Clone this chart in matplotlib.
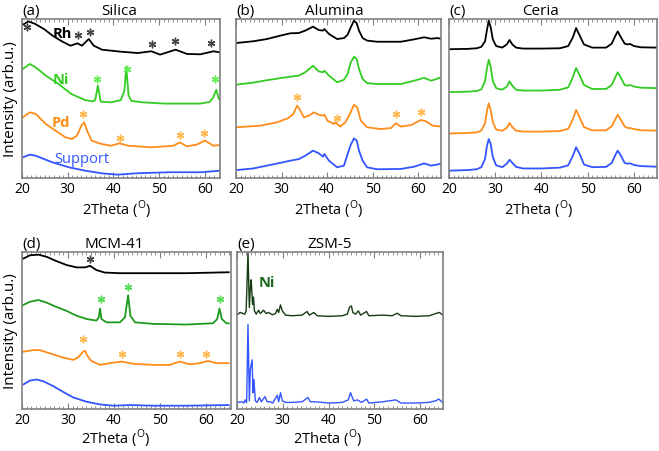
import matplotlib
matplotlib.use('Agg')
import matplotlib.pyplot as plt
from matplotlib.ticker import MultipleLocator

plt.rcParams['font.family'] = ['Open Sans', 'DejaVu Sans']

# ---------------- (a) Silica ----------------
silica_rh_x = [20.2, 21.4, 22.8, 24.8, 26.7, 28.7, 30.6, 32.1, 33.1, 34.6, 35.7, 37.5, 41.4, 45.3,
               48.3, 50.2, 53.6, 56.1, 59.0, 61.9, 63.3]
silica_rh_y = [96.4, 98.5, 97.0, 93.7, 89.5, 86.0, 83.2, 84.7, 83.2, 87.4, 83.2, 80.7, 79.5, 78.6,
               79.7, 77.6, 80.7, 78.0, 77.8, 79.7, 79.0]
silica_ni_x = [20.2, 21.7, 23.0, 25.2, 28.0, 30.8, 33.7, 35.4, 36.0, 36.6, 37.2, 39.5, 41.6, 42.4,
               42.8, 43.3, 43.9, 46.3, 51.2, 56.1, 59.0, 61.0, 61.8, 62.5, 63.0, 63.3]
silica_ni_y = [68.6, 71.7, 69.6, 64.4, 59.1, 52.8, 49.1, 48.2, 49.0, 58.1, 48.0, 47.6, 49.0, 55.0,
               69.8, 52.0, 48.5, 47.6, 46.8, 46.8, 46.8, 47.8, 50.5, 55.5, 50.0, 49.0]
silica_pd_x = [20.2, 21.7, 23.0, 25.2, 27.3, 29.5, 30.9, 32.0, 33.0, 33.6, 34.2, 35.2, 37.4, 39.5,
               41.3, 43.2, 48.2, 53.1, 54.5, 56.1, 58.2, 60.0, 61.9, 63.3]
silica_pd_y = [38.2, 41.3, 40.3, 34.0, 29.8, 25.6, 24.5, 26.6, 33.0, 35.0, 30.0, 23.5, 21.4, 20.3,
               21.8, 20.3, 19.3, 20.3, 22.4, 19.9, 21.0, 23.5, 20.3, 20.8]
silica_sup_x = [20.2, 21.7, 23.0, 26.6, 30.3, 33.8, 37.5, 41.0, 44.6, 51.9, 59.1, 63.3]
silica_sup_y = [13.0, 14.7, 14.0, 9.9, 6.7, 4.6, 2.9, 2.1, 2.9, 3.6, 3.6, 4.6]
silica_rh_stars = [(21.2, 95), (32.2, 90), (34.8, 92), (48.4, 84), (53.4, 86), (61.4, 85)]
silica_ni_stars = [(36.3, 62), (43.0, 68.6), (62.3, 62)]
silica_pd_stars = [(33.3, 40), (41.5, 25), (54.5, 27), (59.7, 28)]

# ---------------- (b) Alumina ----------------
alumina_x = [20.1, 23.8, 26.8, 29.7, 31.9, 33.8, 35.2, 36.9, 38.2, 39.1, 39.4, 40.4, 42.2, 43.7,
             44.5, 45.2, 45.9, 46.5, 47.0, 47.8, 48.8, 51.0, 56.2, 59.1, 61.3, 62.8, 64.3, 65.0]
alumina_black = [84.9, 86.0, 87.4, 89.5, 91.0, 91.2, 92.7, 95.2, 93.0, 92.7, 93.7, 90.6, 87.4, 88.0,
                 90.1, 94.8, 99.0, 97.3, 92.7, 88.0, 86.4, 85.7, 85.7, 87.2, 88.5, 87.6, 88.0, 87.5]
alumina_green = [58.7, 60.0, 61.5, 62.8, 63.7, 64.4, 66.5, 70.6, 67.0, 66.5, 67.5, 64.4, 60.2, 61.8,
                 65.4, 72.7, 76.3, 74.8, 68.6, 62.3, 59.7, 59.1, 59.1, 61.2, 63.0, 61.2, 62.5, 63.3]
alumina_blue = [5.0, 6.0, 7.8, 9.5, 10.9, 11.9, 14.0, 17.2, 15.5, 13.4, 15.1, 10.9, 6.7, 7.8,
                15.1, 21.0, 24.9, 23.5, 17.2, 10.9, 6.7, 5.5, 5.7, 7.1, 9.2, 7.8, 8.5, 9.2]
alumina_pd_x = [20.1, 25.3, 29.0, 31.5, 32.6, 33.4, 33.8, 34.9, 36.0, 37.1, 38.2, 39.1, 39.4, 40.1,
                41.5, 41.8, 42.9, 44.0, 45.0, 45.9, 46.6, 47.4, 48.8, 51.8, 54.0, 55.1, 56.2,
                58.4, 60.6, 61.7, 63.2, 65.0]
alumina_pd_y = [31.9, 32.9, 35.0, 37.7, 40.3, 45.5, 44.0, 38.2, 39.2, 41.3, 39.8, 39.2, 39.8, 36.0,
                34.0, 35.0, 32.3, 35.0, 40.3, 46.1, 44.4, 36.0, 31.9, 30.8, 31.4, 34.4, 32.3,
                33.3, 36.5, 35.6, 32.9, 32.3]
alumina_pd_stars = [(33.4, 51.2), (42.2, 37.7), (55.1, 40.3), (60.7, 41.3)]

# ---------------- (c) Ceria ----------------
ceria_x = [20, 24, 26, 27, 27.8, 28.2, 28.6, 29.0, 29.5, 30.2, 31.5, 32.5, 33.1, 33.7, 34.5, 36,
           40, 44, 45.8, 46.8, 47.5, 48.2, 49.2, 51, 54, 55.2, 56.0, 56.5, 57.1, 58.0, 58.6,
           59.2, 60.0, 61.5, 65]
ceria_black = [81.0, 81.2, 81.6, 82.5, 86, 93, 99, 95, 87, 83, 82, 84, 86.8, 84, 82, 81.4,
               81.4, 81.6, 83, 88.5, 94.3, 90, 84, 82, 82, 84.5, 89.5, 92.2, 89, 84.5, 84,
               84.3, 83, 82.2, 82]
ceria_green = [54, 54.3, 54.7, 55.8, 61, 69, 74.4, 70, 61, 56.5, 55.5, 57.5, 60.8, 58, 55.5, 55,
               55, 55.5, 57, 63.5, 69.2, 65, 58.5, 56, 56, 58.5, 63.5, 66.5, 63.5, 58.5, 58,
               58.5, 57.5, 56.8, 56.5]
ceria_orange = [28, 28.3, 28.7, 29.8, 34.5, 42, 47, 43, 35, 30.5, 29.7, 31.5, 34.6, 32, 29.8, 29.2,
                29.2, 29.5, 31, 37, 42.8, 38.5, 32, 30, 30, 32.5, 37, 39.8, 37, 32.5, 31.5,
                31.4, 30.8, 30, 29.8]
ceria_blue = [4.6, 5, 5.5, 6.8, 12, 20, 24.5, 21.5, 13, 8, 6.8, 9, 11.5, 9.5, 7, 6,
              6, 6.5, 8, 14, 19.3, 15.5, 8.5, 6.8, 7, 9.5, 14.5, 17.2, 14.5, 9.5, 9,
              9.2, 8.2, 7.5, 7.1]

# ---------------- (d) MCM-41 ----------------
mcm_rh_x = [20.3, 21.7, 23.6, 25.4, 27.5, 29.7, 31.9, 33.7, 34.8, 36.2, 38.0, 41.3, 48.6, 55.8, 65.0]
mcm_rh_y = [95.8, 97.9, 98.3, 96.9, 94.2, 91.7, 90.2, 90.2, 91.2, 88.5, 86.9, 86.5, 86.5, 86.5, 87.1]
mcm_ni_x = [20.3, 21.7, 23.6, 25.4, 27.5, 29.7, 31.9, 34.1, 36.2, 36.7, 37.0, 37.3, 38.4, 41.3,
            42.4, 43.1, 43.6, 44.6, 48.6, 55.8, 61.6, 62.5, 63.0, 63.5, 64.5, 65.0]
mcm_ni_y = [66.3, 68.3, 69.4, 67.7, 65.0, 62.5, 59.4, 57.3, 56.3, 58.3, 64.0, 57.3, 55.2, 55.2,
            58.3, 72.5, 59.4, 55.2, 54.2, 53.8, 54.6, 57.3, 64.0, 57.3, 54.6, 54.6]
mcm_pd_x = [20.3, 22.5, 23.9, 26.1, 29.0, 31.2, 32.2, 33.3, 33.8, 34.1, 35.1, 37.0, 39.1, 41.7,
            44.2, 48.6, 52.2, 54.3, 56.5, 58.7, 60.5, 62.3, 65.0]
mcm_pd_y = [36.5, 37.5, 37.5, 35.4, 32.7, 31.3, 32.9, 36.5, 37.0, 34.4, 30.6, 28.1, 29.2, 30.2,
            28.8, 28.1, 28.1, 30.2, 28.5, 29.2, 30.6, 29.2, 29.2]
mcm_sup_x = [20.3, 21.7, 23.2, 24.6, 26.8, 29.0, 31.2, 34.1, 37.0, 39.9, 43.5, 48.6, 55.8, 65.0]
mcm_sup_y = [15.6, 18.1, 18.8, 17.7, 14.6, 10.8, 7.3, 4.6, 2.9, 2.1, 2.5, 2.1, 2.1, 2.5]
mcm_rh_stars = [(34.9, 95.4)]
mcm_ni_stars = [(37.1, 69.8), (43.0, 77.5), (63.0, 69.8)]
mcm_pd_stars = [(33.3, 44.8), (41.8, 35), (54.3, 35), (60.0, 35)]

# ---------------- (e) ZSM-5 ----------------
zsm_ni_x = [20.2, 20.7, 21.7, 22.0, 22.4, 22.7, 22.9, 23.1, 23.4, 23.6, 23.8, 24.2, 24.7, 25.1,
            25.8, 26.4, 26.9, 27.7, 28.4, 28.8, 29.1, 29.5, 29.9, 30.6, 32.0, 34.2, 35.3, 35.8,
            36.8, 37.5, 40.1, 43.0, 44.1, 44.6, 45.0, 45.3, 45.9, 46.5, 47.0, 48.3, 48.8, 51.8,
            53.9, 55.0, 55.8, 59.0, 62.0, 63.4, 64.2, 64.9]
zsm_ni_y = [60.4, 61.5, 60.4, 62.5, 99.6, 64.6, 77.0, 82.3, 66.7, 71.3, 62.5, 60.4, 62.9, 60.8,
            62.9, 60.8, 61.5, 60.0, 60.8, 63.5, 61.5, 66.3, 62.5, 59.8, 59.4, 59.8, 62.1, 59.8,
            61.5, 59.4, 59.0, 59.4, 60.4, 65.0, 65.6, 61.5, 60.4, 62.5, 59.8, 62.1, 59.4, 59.8,
            59.4, 61.0, 59.4, 59.0, 59.4, 60.8, 61.5, 60.0]
zsm_sup_x = [20.2, 21.1, 21.5, 21.8, 22.1, 22.4, 22.7, 22.9, 23.3, 23.5, 23.7, 24.0, 24.4, 24.9,
             25.3, 26.1, 26.6, 27.3, 27.8, 28.8, 29.1, 29.5, 29.9, 30.6, 32.0, 34.2, 35.5, 36.0,
             37.1, 40.1, 43.0, 44.3, 44.8, 45.2, 45.5, 46.3, 47.2, 48.3, 48.8, 51.8, 54.7, 55.8,
             59.0, 61.9, 63.4, 64.1, 64.9]
zsm_sup_y = [4.2, 4.6, 3.8, 5.8, 4.0, 53.8, 5.2, 25.0, 31.3, 10.4, 18.8, 5.2, 4.2, 7.3,
             4.6, 7.9, 4.6, 4.6, 3.8, 8.8, 4.6, 10.4, 5.2, 4.2, 4.2, 4.6, 7.3, 4.6,
             4.6, 3.8, 4.2, 5.8, 10.4, 7.3, 5.2, 5.8, 4.2, 6.3, 3.8, 4.6, 5.8, 3.8,
             3.8, 4.2, 5.2, 6.3, 4.2]

BLACK = '#000000'
GREEN = '#33cc22'
DKGREEN = '#1e9a1e'
ORANGE = '#ff8c1a'
BLUE = '#3355ff'
ZGREEN = '#143d14'


def setup(ax, xmax, title, tag, title_x, xlabel_x, xlabel_y):
    ax.set_xlim(20, xmax)
    ax.set_ylim(0, 100)
    ax.set_yticks([])
    ax.set_xticks([20, 30, 40, 50, 60])
    ax.xaxis.set_minor_locator(MultipleLocator(1))
    ax.tick_params(axis='x', which='both', direction='in', top=True, labelsize=10, pad=2.5,
                   color='#808080')
    ax.tick_params(axis='x', which='major', length=4, width=0.8)
    ax.tick_params(axis='x', which='minor', length=2, width=0.6)
    for s in ax.spines.values():
        s.set_color('#808080')
        s.set_linewidth(1.2)
    ax.text(0.0, 1.005, tag, transform=ax.transAxes, fontsize=11, ha='left', va='bottom')
    ax.text(title_x, 1.005, title, transform=ax.transAxes, fontsize=11, ha='center', va='bottom')
    ax.set_xlabel(r'2Theta ($^\mathregular{O}$)', fontsize=10.5)
    ax.xaxis.set_label_coords(xlabel_x, xlabel_y)
    ax.xaxis.label.set_verticalalignment('center')


def stars(ax, pts, color):
    ax.plot([p[0] for p in pts], [p[1] for p in pts], linestyle='none', marker=(6, 2, 0),
            ms=5.5, mew=1.0, color=color)


fig = plt.figure(figsize=(6.59, 4.52), dpi=100)

ax_a = fig.add_axes([22 / 659, 1 - 179 / 452, 198 / 659, 159 / 452])
ax_b = fig.add_axes([236 / 659, 1 - 179 / 452, 205 / 659, 159 / 452])
ax_c = fig.add_axes([449 / 659, 1 - 179 / 452, 208 / 659, 159 / 452])
ax_d = fig.add_axes([22 / 659, 1 - 410 / 452, 209 / 659, 157 / 452])
ax_e = fig.add_axes([237 / 659, 1 - 410 / 452, 206 / 659, 157 / 452])

lw = 1.3

# (a)
ax_a.plot(silica_rh_x, silica_rh_y, color=BLACK, lw=lw)
ax_a.plot(silica_ni_x, silica_ni_y, color=GREEN, lw=lw)
ax_a.plot(silica_pd_x, silica_pd_y, color=ORANGE, lw=lw)
ax_a.plot(silica_sup_x, silica_sup_y, color=BLUE, lw=lw)
stars(ax_a, silica_rh_stars, '#444444')
stars(ax_a, silica_ni_stars, '#66ee55')
stars(ax_a, silica_pd_stars, '#ffb84d')
ax_a.text(26.6, 91.5, 'Rh', color=BLACK, fontsize=10.5, fontweight='bold', va='center')
ax_a.text(26.6, 62, 'Ni', color=GREEN, fontsize=10.5, fontweight='bold', va='center')
ax_a.text(26.4, 35, 'Pd', color=ORANGE, fontsize=10.5, fontweight='bold', va='center')
ax_a.text(27.0, 12, 'Support', color=BLUE, fontsize=10.5, va='center')
setup(ax_a, 63.3, 'Silica', '(a)', 0.49, 0.48, -0.195)
ax_a.set_ylabel('Intensity (arb.u.)', fontsize=11, labelpad=3)

# (b)
ax_b.plot(alumina_x, alumina_black, color=BLACK, lw=lw)
ax_b.plot(alumina_x, alumina_green, color=GREEN, lw=lw)
ax_b.plot(alumina_pd_x, alumina_pd_y, color=ORANGE, lw=lw)
ax_b.plot(alumina_x, alumina_blue, color=BLUE, lw=lw)
stars(ax_b, alumina_pd_stars, '#ffb84d')
setup(ax_b, 65, 'Alumina', '(b)', 0.48, 0.45, -0.195)

# (c)
ax_c.plot(ceria_x, ceria_black, color=BLACK, lw=lw)
ax_c.plot(ceria_x, ceria_green, color=GREEN, lw=lw)
ax_c.plot(ceria_x, ceria_orange, color=ORANGE, lw=lw)
ax_c.plot(ceria_x, ceria_blue, color=BLUE, lw=lw)
setup(ax_c, 65, 'Ceria', '(c)', 0.44, 0.43, -0.195)

# (d)
ax_d.plot(mcm_rh_x, mcm_rh_y, color=BLACK, lw=lw)
ax_d.plot(mcm_ni_x, mcm_ni_y, color=DKGREEN, lw=lw)
ax_d.plot(mcm_pd_x, mcm_pd_y, color=ORANGE, lw=lw)
ax_d.plot(mcm_sup_x, mcm_sup_y, color=BLUE, lw=lw)
stars(ax_d, mcm_rh_stars, '#444444')
stars(ax_d, mcm_ni_stars, '#55dd55')
stars(ax_d, mcm_pd_stars, '#ffb84d')
setup(ax_d, 65.5, 'MCM-41', '(d)', 0.44, 0.45, -0.185)
ax_d.set_ylabel('Intensity (arb.u.)', fontsize=11, labelpad=3)

# (e)
ax_e.plot(zsm_ni_x, zsm_ni_y, color=ZGREEN, lw=1.0)
ax_e.plot(zsm_sup_x, zsm_sup_y, color=BLUE, lw=1.0)
ax_e.text(24.7, 81, 'Ni', color='#1a661a', fontsize=10.5, fontweight='bold', va='center')
setup(ax_e, 65, 'ZSM-5', '(e)', 0.45, 0.44, -0.185)

fig.savefig('out.png', dpi=100)
